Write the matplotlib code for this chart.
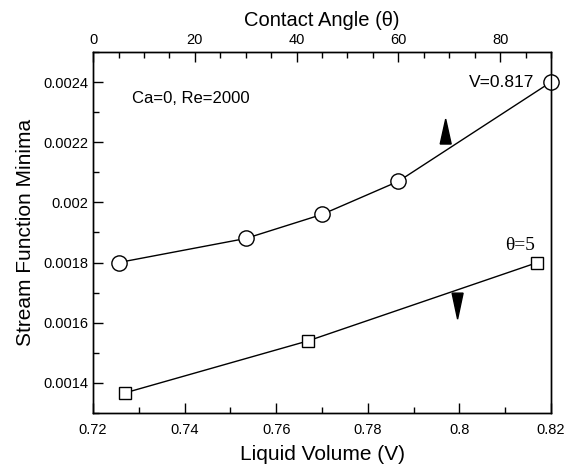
import matplotlib
matplotlib.use("Agg")
import matplotlib.pyplot as plt
from matplotlib.ticker import MultipleLocator

plt.rcParams['font.family'] = ['Liberation Sans', 'DejaVu Sans']

# circles: V=0.817, varying contact angle (top axis)
theta = [5, 30, 45, 60, 90]
psi_theta = [0.00180, 0.00188, 0.00196, 0.00207, 0.00240]

# squares: theta=5, varying liquid volume (bottom axis)
volume = [0.727, 0.767, 0.817]
psi_volume = [0.001367, 0.001540, 0.001800]

y_ticks = [0.0014, 0.0016, 0.0018, 0.0020, 0.0022, 0.0024]
y_labels = ['0.0014', '0.0016', '0.0018', '0.002', '0.0022', '0.0024']
v_ticks = [0.72, 0.74, 0.76, 0.78, 0.80, 0.82]
v_labels = ['0.72', '0.74', '0.76', '0.78', '0.8', '0.82']

fig = plt.figure(figsize=(5.64, 4.68), dpi=100)
ax = fig.add_axes([0.165, 0.1175, 0.812, 0.7715])

# bottom axis: liquid volume
ax.plot(volume, psi_volume, color='black', lw=1.0, marker='s', ms=8,
        mfc='white', mec='black', mew=1.0)
ax.set_xlim(0.72, 0.82)
ax.set_ylim(0.0013, 0.0025)
ax.set_xticks(v_ticks)
ax.set_xticklabels(v_labels)
ax.xaxis.set_minor_locator(MultipleLocator(0.01))
ax.set_yticks(y_ticks)
ax.set_yticklabels(y_labels)
ax.yaxis.set_minor_locator(MultipleLocator(0.0001))
ax.tick_params(which='both', direction='in', top=False, right=False, labelsize=10.5)
ax.tick_params(which='major', length=7, width=1)
ax.tick_params(which='minor', length=4, width=1)
ax.tick_params(axis='x', pad=7)
ax.set_xlabel('Liquid Volume (V)', fontsize=15, labelpad=6)
ax.set_ylabel('Stream Function Minima', fontsize=15, labelpad=6)

# top axis: contact angle
ax2 = ax.twiny()
ax2.plot(theta, psi_theta, color='black', lw=1.0, marker='o', ms=11,
         mfc='white', mec='black', mew=1.0, clip_on=False)
ax2.set_xlim(0, 90)
ax2.set_xticks([0, 20, 40, 60, 80])
ax2.xaxis.set_minor_locator(MultipleLocator(5))
ax2.tick_params(which='both', direction='in', labelsize=10.5)
ax2.tick_params(which='major', length=7, width=1)
ax2.tick_params(which='minor', length=4, width=1)
ax2.set_xlabel('Contact Angle (θ)', fontsize=14.5, labelpad=5)

for a in (ax, ax2):
    for s in a.spines.values():
        s.set_linewidth(1.0)

# annotations
ax.text(0.085, 0.87, 'Ca=0, Re=2000', transform=ax.transAxes, fontsize=12,
        va='center', ha='left')
ax.text(0.963, 0.915, 'V=0.817', transform=ax.transAxes, fontsize=12.5,
        va='center', ha='right')
ax.text(0.965, 0.465, 'θ=5', transform=ax.transAxes, fontsize=14,
        va='center', ha='right', family=['Liberation Serif', 'DejaVu Serif'])

# direction arrows (up: top axis, down: bottom axis)
ax.fill([0.758, 0.782, 0.770], [0.745, 0.745, 0.814], color='black',
        transform=ax.transAxes)
ax.fill([0.784, 0.808, 0.796], [0.332, 0.332, 0.260], color='black',
        transform=ax.transAxes)

fig.savefig('out.png', dpi=100)
